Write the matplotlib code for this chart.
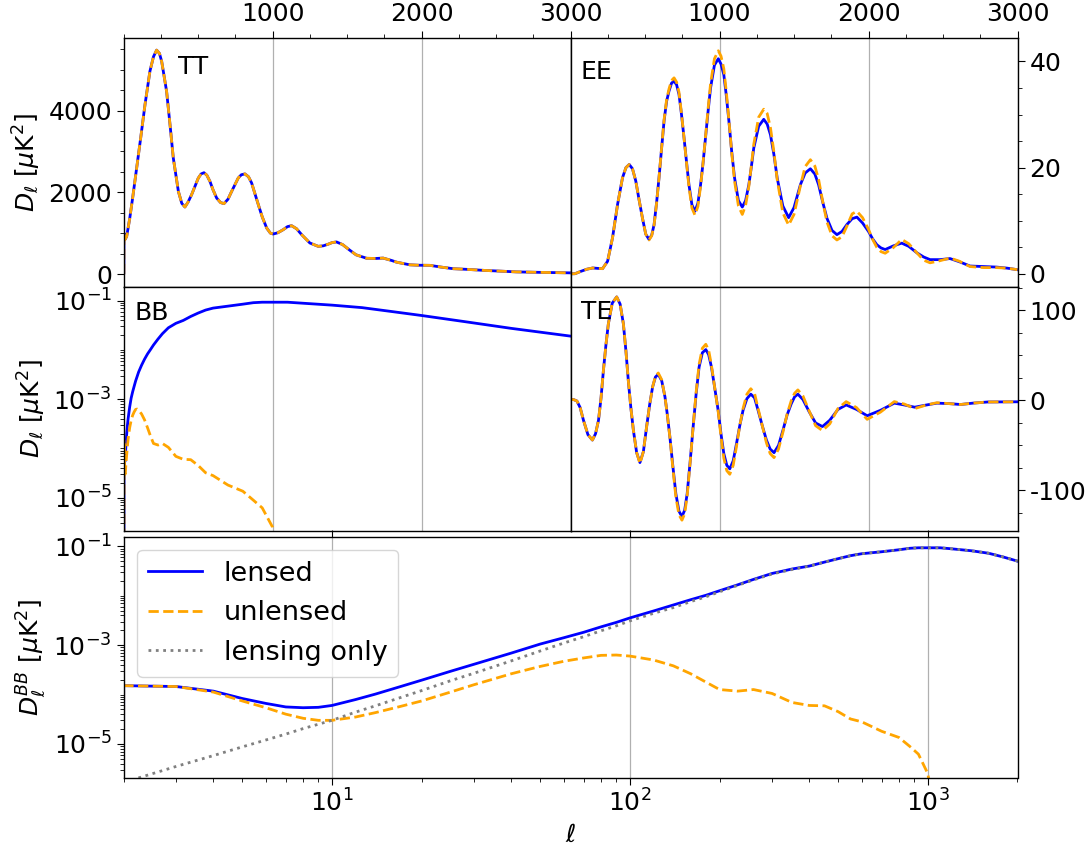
import numpy as np
import matplotlib
matplotlib.use('Agg')
import matplotlib.pyplot as plt
from matplotlib.ticker import (FixedLocator, MultipleLocator, LogLocator,
                               NullFormatter, LogFormatterSciNotation)

# ---------------- data ----------------
# TT (lensed and unlensed are indistinguishable at this scale)
ell_TT = [0, 1, 2, 10, 20, 40, 60, 87, 114, 143,
          176, 200, 221, 240, 255, 288, 311, 333, 367, 390,
          411, 432, 456, 501, 520, 539, 558, 579, 600, 624,
          650, 673, 700, 725, 769, 790, 814, 838, 859, 880,
          904, 930, 960, 985, 1004, 1035, 1071, 1100, 1127, 1160,
          1195, 1250, 1306, 1340, 1373, 1400, 1429, 1470, 1519, 1560,
          1631, 1690, 1742, 1800, 1832, 1921, 1980, 2056, 2130, 2212,
          2300, 2413, 2530, 2637, 2800, 3000]
TT_lensed = [0, 0, 1000, 850, 920, 1350, 1860, 2595, 3330, 4145,
             4962, 5320, 5480, 5400, 5205, 4472, 3656, 2840, 2024, 1730,
             1640, 1760, 1942, 2350, 2450, 2480, 2420, 2268, 2060, 1860,
             1750, 1722, 1830, 2024, 2350, 2430, 2450, 2380, 2228, 1980,
             1697, 1400, 1126, 1000, 979, 1010, 1085, 1160, 1183, 1110,
             963, 759, 677, 690, 730, 770, 785, 720, 580, 470,
             385, 380, 390, 330, 290, 225, 215, 212, 170, 130,
             115, 90, 70, 52, 40, 28]
TT_unlensed = list(TT_lensed)

# EE
ell_EE = [0, 1, 2, 30, 70, 110, 149, 185, 215, 249,
          282, 316, 349, 372, 394, 416, 438, 460, 483, 505,
          527, 545, 561, 578, 594, 611, 628, 645, 661, 678,
          695, 712, 728, 745, 762, 779, 795, 815, 835, 855,
          873, 890, 906, 923, 940, 966, 992, 1010, 1029, 1046,
          1063, 1082, 1101, 1127, 1153, 1175, 1197, 1213, 1230, 1263,
          1297, 1320, 1342, 1365, 1387, 1425, 1464, 1500, 1543, 1575,
          1610, 1640, 1665, 1693, 1721, 1755, 1788, 1822, 1855, 1890,
          1922, 1960, 2000, 2028, 2056, 2084, 2112, 2168, 2223, 2270,
          2324, 2370, 2413, 2480, 2547, 2610, 2681, 2770, 2859, 2930,
          3000]
EE_lensed = [0, 0, 0.03, 0.05, 0.5, 0.9, 1.13, 1.05, 1.0, 2.4,
             6.8, 13.1, 18.1, 20.0, 20.6, 19.8, 17.5, 14.0, 10.5, 7.5,
             6.5, 7.3, 9.3, 13.5, 18.1, 23.5, 28.8, 32.5, 34.4, 35.9,
             36.3, 35.6, 33.8, 30.0, 25.6, 21.0, 16.8, 13.0, 11.8, 13.3,
             16.8, 21.0, 25.6, 30.5, 35.0, 39.3, 40.5, 39.5, 37.5, 33.5,
             28.8, 23.0, 18.1, 13.8, 12.6, 13.8, 16.8, 20.0, 23.7, 27.8,
             29.1, 28.2, 26.2, 22.5, 18.1, 12.8, 10.6, 12.5, 16.8, 19.0,
             19.8, 18.8, 16.8, 13.5, 10.5, 8.2, 7.4, 8.0, 9.3, 10.4,
             10.7, 9.6, 8.0, 6.6, 5.5, 4.9, 4.6, 5.3, 5.8, 5.2,
             4.0, 3.2, 2.7, 2.7, 2.9, 2.3, 1.5, 1.4, 1.3, 1.1,
             0.8]
EE_unlensed = [0, 0, 0.03, 0.05, 0.5, 0.9, 1.13, 1.05, 1.0, 2.4,
               6.8, 13.1, 18.1, 20.0, 20.6, 19.8, 17.5, 14.0, 10.5, 7.5,
               6.4, 7.2, 9.2, 13.4, 18.1, 23.6, 29.0, 32.8, 34.8, 36.4,
               36.9, 36.1, 34.2, 30.2, 25.6, 20.8, 16.4, 12.4, 11.1, 12.7,
               16.5, 21.0, 25.8, 31.0, 35.8, 40.5, 42.0, 41.0, 38.6, 34.2,
               29.0, 22.8, 17.5, 12.8, 11.2, 12.9, 16.5, 20.2, 24.4, 29.5,
               31.0, 30.2, 27.5, 23.0, 17.8, 11.5, 9.2, 11.2, 16.6, 20.2,
               21.5, 20.3, 17.8, 13.6, 9.8, 7.2, 6.4, 7.0, 9.0, 11.3,
               11.8, 10.6, 8.4, 6.5, 5.0, 4.2, 3.9, 5.0, 6.5, 5.7,
               4.0, 2.6, 2.1, 2.5, 3.0, 2.4, 1.4, 1.2, 1.2, 1.1,
               0.8]

# TE
ell_TE = [0, 1, 2, 20, 43, 65, 87, 117, 147, 168,
          188, 205, 221, 238, 254, 280, 310, 333, 355, 372,
          388, 405, 422, 444, 466, 489, 511, 531, 551, 570,
          589, 612, 634, 650, 667, 687, 707, 728, 748, 766,
          783, 803, 823, 843, 863, 885, 908, 927, 946, 968,
          991, 1010, 1029, 1049, 1069, 1092, 1114, 1136, 1158, 1184,
          1210, 1235, 1259, 1287, 1315, 1340, 1366, 1396, 1426, 1454,
          1482, 1504, 1526, 1560, 1600, 1645, 1691, 1740, 1795, 1850,
          1920, 1991, 2080, 2173, 2240, 2310, 2390, 2459, 2540, 2618,
          2700, 2800, 3000]
TE_lensed = [0, 0, 1.0, 1.0, -0.6, -8, -22, -38, -44, -37,
             -22, 3, 33.5, 62, 85, 108, 115, 107, 85, 55,
             22, -8, -33, -58, -69, -57, -29, -5, 15, 26,
             29, 22, 4, -16, -40.5, -73, -103.5, -123, -129, -122,
             -103.5, -68, -29.5, 7, 37, 53, 56.5, 51, 37, 14,
             -11, -37, -59, -72, -76, -67, -48, -28, -11, 2,
             7, 3, -11, -28, -44, -54, -58, -50, -33, -16,
             -3.5, 4, 7, 1, -12, -25, -29, -22, -10, -5,
             -10, -17, -11, -3, -5, -7.5, -5, -3, -3.5, -4.5,
             -3, -1.7, -1.5]
TE_unlensed = [0, 0, 1.0, 1.0, -0.6, -8, -22, -38, -44, -37,
               -22, 3, 33.5, 62, 85, 108, 115, 107, 85, 55,
               22, -8, -33, -58, -70, -57, -29, -5, 15, 27,
               30.5, 23, 4, -16, -41, -75, -107, -127, -133, -126,
               -106, -69, -29, 9, 40, 58, 62.4, 56, 39, 14,
               -12, -40, -64, -78, -82, -72, -51, -28, -9, 7,
               13, 8, -9, -28, -47, -59, -63.5, -54, -35, -15,
               0, 8, 11.7, 5, -11, -28, -33.5, -26, -9, -1.3,
               -8, -21, -13, -1.3, -4, -9, -5, -2.5, -3.5, -4.5,
               -3, -1.7, -1.5]

# BB
ell_BB = [0, 1, 2, 3, 4, 5, 6, 7, 8, 9,
          10, 12, 14, 17, 20, 25, 30, 40, 50, 60,
          70, 80, 90, 100, 120, 140, 160, 180, 200, 230,
          260, 300, 350, 400, 450, 500, 550, 600, 700, 800,
          870, 930, 1000, 1040, 1100, 1200, 1400, 1600, 1800, 2000,
          2300, 2600, 3000]
BB_lensed = [0, 0, 1.51e-4, 1.45e-4, 1.17e-4, 8.3e-5, 6.6e-5, 5.6e-5, 5.4e-5, 5.5e-5,
             6.0e-5, 7.9e-5, 1.02e-4, 1.45e-4, 1.95e-4, 2.95e-4, 4.1e-4, 6.9e-4, 1.05e-3, 1.41e-3,
             1.82e-3, 2.34e-3, 2.88e-3, 3.55e-3, 4.9e-3, 6.5e-3, 8.3e-3, 0.0102, 0.0126, 0.0166,
             0.0214, 0.0282, 0.0347, 0.0398, 0.0479, 0.0562, 0.0646, 0.0708, 0.0776, 0.0851,
             0.0912, 0.0933, 0.0933, 0.0933, 0.0933, 0.0891, 0.0813, 0.0724, 0.0603, 0.0501,
             0.0372, 0.0275, 0.0191]
BB_unlensed = [0, 0, 1.51e-4, 1.45e-4, 1.12e-4, 7.4e-5, 5.4e-5, 4.0e-5, 3.3e-5, 3.0e-5,
               3.0e-5, 3.5e-5, 4.3e-5, 5.75e-5, 7.4e-5, 1.12e-4, 1.58e-4, 2.63e-4, 3.7e-4, 4.7e-4,
               5.5e-4, 6.2e-4, 6.3e-4, 6.0e-4, 5.0e-4, 3.8e-4, 2.63e-4, 1.78e-4, 1.26e-4, 1.17e-4,
               1.26e-4, 1.05e-4, 6.9e-5, 6.0e-5, 5.9e-5, 4.5e-5, 3.2e-5, 2.8e-5, 1.8e-5, 1.35e-5,
               8.9e-6, 6.2e-6, 2.5e-6, 6.3e-7, 0, 0, 0, 0, 0, 0,
               0, 0, 0]
BB_lensing_only = [0, 0, 1.66e-6, 3.5e-6, 5.8e-6, 8.7e-6, 1.2e-5, 1.58e-5, 2.04e-5, 2.5e-5,
                   3.0e-5, 4.4e-5, 5.9e-5, 8.7e-5, 1.2e-4, 1.9e-4, 2.7e-4, 4.8e-4, 7.6e-4, 1.1e-3,
                   1.48e-3, 1.95e-3, 2.45e-3, 3.09e-3, 4.4e-3, 5.75e-3, 7.6e-3, 9.5e-3, 0.0120, 0.0162,
                   0.0209, 0.0275, 0.0339, 0.0398, 0.0479, 0.0562, 0.0646, 0.0708, 0.0776, 0.0851,
                   0.0912, 0.0933, 0.0933, 0.0933, 0.0933, 0.0891, 0.0813, 0.0724, 0.0603, 0.0501,
                   0.0372, 0.0275, 0.0191]

panel_names = ['TT', 'EE', 'BB', 'TE']
legend_labels = ['lensed', 'unlensed', 'lensing only']
top_ticks = [1000, 2000, 3000]
log_yticks = [1e-5, 1e-3, 1e-1]

# ---------------- figure ----------------
plt.rcParams['font.size'] = 18
plt.rcParams['axes.unicode_minus'] = False
plt.rcParams['xtick.major.size'] = 5
plt.rcParams['ytick.major.size'] = 5
plt.rcParams['xtick.minor.size'] = 3
plt.rcParams['ytick.minor.size'] = 3
plt.rcParams['axes.linewidth'] = 1.0

W, H = 1092, 847
fig = plt.figure(figsize=(W / 100, H / 100), dpi=100)


def rect(x0, y0, x1, y1):
    return [x0 / W, 1 - y1 / H, (x1 - x0) / W, (y1 - y0) / H]


xl, xm, xr = 123.7, 570.5, 1017.5
ax_tt = fig.add_axes(rect(xl, 38, xm, 287))
ax_ee = fig.add_axes(rect(xm, 38, xr, 287))
ax_bb = fig.add_axes(rect(xl, 287, xm, 531))
ax_te = fig.add_axes(rect(xm, 287, xr, 531))
ax_lo = fig.add_axes(rect(xl, 536.5, xr, 778))

LW = 2.0
C_L, C_U, C_G = 'blue', 'orange', 'gray'


def pair(ax, ell, lens, unl):
    ax.plot(ell, lens, color=C_L, lw=LW, ls='-')
    ax.plot(ell, unl, color=C_U, lw=LW, ls='--')


pair(ax_tt, ell_TT, TT_lensed, TT_unlensed)
pair(ax_ee, ell_EE, EE_lensed, EE_unlensed)
pair(ax_bb, ell_BB, BB_lensed, BB_unlensed)
pair(ax_te, ell_TE, TE_lensed, TE_unlensed)

ax_lo.plot(ell_BB, BB_lensed, color=C_L, lw=LW, ls='-', label=legend_labels[0])
ax_lo.plot(ell_BB, BB_unlensed, color=C_U, lw=LW, ls='--', label=legend_labels[1])
ax_lo.plot(ell_BB, BB_lensing_only, color=C_G, lw=LW, ls=':', label=legend_labels[2])

# linear-ell panels
for ax in (ax_tt, ax_ee, ax_bb, ax_te):
    ax.set_xlim(0, 3000)
    ax.xaxis.set_major_locator(FixedLocator(top_ticks))
    ax.xaxis.set_minor_locator(MultipleLocator(250))
    ax.grid(axis='x', which='major', color='#b0b0b0', lw=0.9)

for ax in (ax_tt, ax_ee):
    ax.xaxis.tick_top()
    ax.tick_params(axis='x', which='both', direction='out')
for ax in (ax_bb, ax_te):
    ax.tick_params(axis='x', which='both', bottom=False, top=False,
                   labelbottom=False, labeltop=False)

for ax in (ax_ee, ax_te):
    ax.yaxis.tick_right()

ax_tt.set_ylim(-318, 5777)
ax_tt.yaxis.set_major_locator(MultipleLocator(2000))
ax_tt.yaxis.set_minor_locator(MultipleLocator(500))

ax_ee.set_ylim(-2.45, 44.4)
ax_ee.yaxis.set_major_locator(MultipleLocator(20))
ax_ee.yaxis.set_minor_locator(MultipleLocator(5))

ax_te.set_ylim(-145, 126)
ax_te.yaxis.set_major_locator(MultipleLocator(100))
ax_te.yaxis.set_minor_locator(MultipleLocator(25))

for ax, lims in ((ax_bb, (2.1e-6, 0.19)), (ax_lo, (2.04e-6, 0.158))):
    ax.set_yscale('log')
    ax.set_ylim(*lims)
    ax.yaxis.set_major_locator(FixedLocator(log_yticks))
    ax.yaxis.set_major_formatter(LogFormatterSciNotation())
    ax.yaxis.set_minor_locator(LogLocator(base=10, subs=np.arange(1, 10), numticks=50))
    ax.yaxis.set_minor_formatter(NullFormatter())

# bottom panel
ax_lo.set_xscale('log')
ax_lo.set_xlim(2, 2000)
ax_lo.grid(axis='x', which='major', color='#b0b0b0', lw=0.9)
ax_lo.tick_params(axis='x', which='major', top=True)
ax_lo.tick_params(axis='x', which='minor', top=False)
ax_lo.legend(loc='upper left', fontsize=19.5, handlelength=2.0)
ax_lo.set_xlabel(r'$\ell$')

ylab = r'$D_\ell$ [$\mu$K$^2$]'
ax_tt.set_ylabel(ylab)
ax_bb.set_ylabel(ylab)
ax_lo.set_ylabel(r'$D_\ell^{BB}$ [$\mu$K$^2$]')

ax_tt.text(0.121, 0.885, panel_names[0], transform=ax_tt.transAxes, va='center', ha='left')
ax_ee.text(0.023, 0.865, panel_names[1], transform=ax_ee.transAxes, va='center', ha='left')
ax_bb.text(0.025, 0.893, panel_names[2], transform=ax_bb.transAxes, va='center', ha='left')
ax_te.text(0.023, 0.898, panel_names[3], transform=ax_te.transAxes, va='center', ha='left')

fig.savefig('out.png', dpi=100)
